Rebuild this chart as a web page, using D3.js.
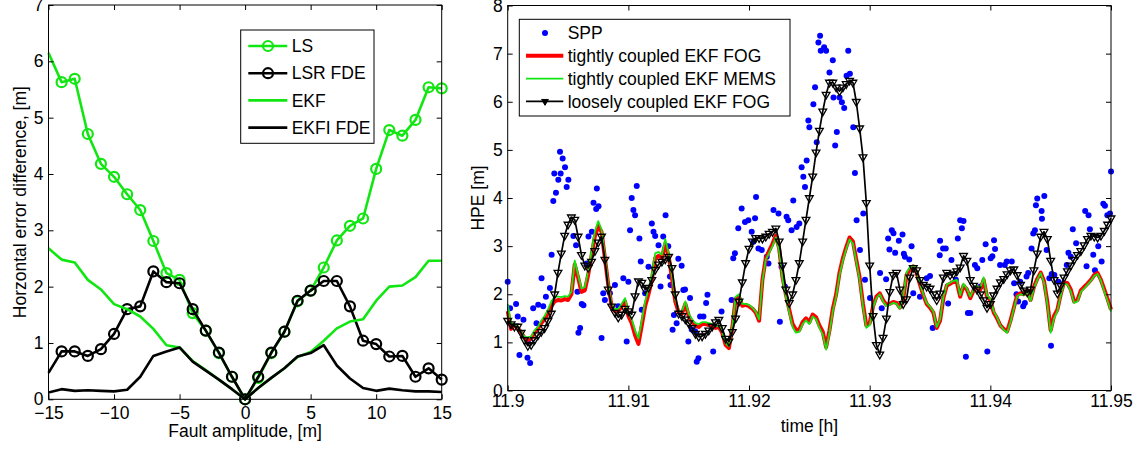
<!DOCTYPE html>
<html>
<head>
<meta charset="utf-8">
<script src="https://cdn.jsdelivr.net/npm/d3@7"></script>
<style>
body { margin: 0; background: #fff; }
svg { display: block; font-family: "Liberation Sans", Arial, sans-serif; }
.axis text { font-size: 17.5px; font-family: "Liberation Sans", Arial, sans-serif; fill: #000; }
.label { font-size: 17.5px; fill: #000; }
</style>
</head>
<body>
<svg id="svg"></svg>
<script>
var width = 1144, height = 450;

// ---- left panel: error difference vs fault amplitude
var faultAmp = [-15,-14,-13,-12,-11,-10,-9,-8,-7,-6,-5,-4,-3,-2,-1,0,1,2,3,4,5,6,7,8,9,10,11,12,13,14,15];
var lsErr   = [6.15,5.63,5.69,4.71,4.18,3.95,3.64,3.36,2.81,2.24,2.12,1.53,1.22,0.82,0.4,0,0.38,0.82,1.2,1.74,1.93,2.34,2.82,3.08,3.21,4.09,4.78,4.68,4.96,5.54,5.52];
var lsrErr  = [0.47,0.85,0.85,0.77,0.89,1.16,1.6,1.65,2.27,2.08,2.06,1.6,1.22,0.83,0.4,0,0.4,0.83,1.2,1.75,1.93,2.1,2.1,1.65,1.04,0.98,0.76,0.77,0.4,0.55,0.35];
var ekfErr  = [2.68,2.48,2.43,2.12,1.95,1.69,1.6,1.47,1.25,0.96,0.92,0.68,0.52,0.35,0.18,0,0.2,0.38,0.55,0.75,0.84,1.04,1.26,1.38,1.42,1.75,2.0,2.02,2.17,2.46,2.46];
var ekfiErr = [0.12,0.18,0.15,0.16,0.15,0.14,0.17,0.4,0.77,0.85,0.92,0.67,0.51,0.35,0.18,0,0.2,0.38,0.55,0.76,0.82,0.96,0.6,0.37,0.2,0.15,0.19,0.16,0.14,0.14,0.13];
var leftXTicks = [-15,-10,-5,0,5,10,15];
var leftYTicks = [0,1,2,3,4,5,6,7];
var leftNames = ["LS", "LSR FDE", "EKF", "EKFI FDE"];

// ---- right panel: HPE over time
var sampleSec = d3.range(0, 181);
var looseFog = [1.45,1.38,1.33,1.33,1.2,1.05,0.93,0.95,1.05,1.15,
	1.22,1.3,1.45,1.6,2.0,2.45,2.85,3.22,3.45,3.6,
	3.55,3.2,2.82,2.6,2.55,2.68,2.9,3.08,3.2,2.72,
	2.1,1.75,1.62,1.52,1.58,1.7,1.65,1.58,1.96,2.27,
	2.24,2.1,2.14,2.3,2.51,2.62,2.68,2.73,2.78,2.55,
	2.0,1.6,1.55,1.48,1.4,1.3,1.18,1.12,1.13,1.18,
	1.25,1.33,1.42,1.47,1.3,1.08,1.02,1.22,1.5,1.85,
	2.25,2.65,2.95,3.1,3.17,3.17,3.16,3.2,3.26,3.3,
	3.37,3.1,2.6,2.1,1.82,2.0,2.3,2.65,3.1,3.55,
	4.0,4.45,4.95,5.4,5.8,6.15,6.4,6.4,6.3,6.22,
	6.3,6.37,6.44,6.4,6.0,5.45,4.85,3.9,2.6,1.55,
	0.95,0.75,1.1,1.5,2.05,2.4,2.45,2.1,1.8,1.9,
	2.35,2.55,2.5,2.3,2.2,2.16,2.12,2.0,1.88,2.02,
	2.35,2.45,2.4,2.42,2.48,2.56,2.8,2.7,2.3,2.18,
	2.1,2.0,1.88,1.72,1.8,1.98,2.12,2.25,2.32,2.42,
	2.5,2.52,2.4,2.2,2.08,2.04,2.1,2.5,2.85,3.2,
	3.3,3.15,2.7,2.3,2.02,2.18,2.35,2.48,2.6,2.72,
	2.82,2.9,3.02,3.15,3.22,3.2,3.18,3.22,3.32,3.45,
	3.58];
var tightFog = [1.65,1.28,1.35,1.3,1.2,1.1,1.05,1.08,1.2,1.28,
	1.4,1.48,1.6,1.75,1.85,1.88,1.87,1.9,1.88,2.0,
	2.62,2.35,2.05,2.08,2.4,2.8,3.2,3.42,3.3,2.75,
	2.2,1.75,1.65,1.65,1.75,1.85,1.55,1.4,1.15,0.97,
	1.35,1.75,2.0,2.3,2.75,2.8,2.75,3.05,2.8,2.35,
	1.85,1.62,1.6,1.8,1.55,1.42,1.35,1.32,1.38,1.38,
	1.36,1.35,1.3,1.32,1.2,0.95,0.88,1.3,1.9,1.95,
	1.76,1.78,1.75,1.7,1.62,1.45,2.3,2.75,2.9,3.05,
	3.22,2.95,2.35,2.0,1.68,1.38,1.26,1.26,1.42,1.5,
	1.42,1.58,1.52,1.35,1.22,0.9,1.25,1.7,2.0,2.45,
	2.75,2.98,3.18,3.1,2.72,2.35,1.8,1.35,1.4,1.75,
	1.95,2.02,1.88,1.78,1.8,1.84,1.82,1.72,1.9,2.4,
	2.52,2.58,2.45,2.2,1.98,1.8,1.72,1.62,1.3,1.45,
	1.92,2.18,2.22,2.26,2.25,1.95,2.18,2.1,1.92,2.08,
	2.15,2.1,2.3,1.95,1.88,1.62,1.5,1.35,1.28,1.23,
	1.45,1.72,1.98,2.02,2.0,2.08,1.88,2.15,2.32,2.45,
	2.28,1.85,1.25,1.55,1.68,2.0,2.25,2.23,2.1,1.85,
	1.88,2.08,2.15,2.22,2.3,2.4,2.44,2.3,2.1,1.9,
	1.68];
var tightMems = [1.8,1.4,1.38,1.32,1.22,1.12,1.1,1.12,1.25,1.32,
	1.45,1.55,1.68,1.85,1.95,1.95,1.94,1.96,1.95,2.05,
	2.7,2.4,2.12,2.15,2.48,2.9,3.3,3.52,3.35,2.8,
	2.22,1.78,1.68,1.7,1.8,1.92,1.62,1.48,1.25,1.08,
	1.45,1.85,2.1,2.4,2.85,2.88,2.82,3.15,2.85,2.4,
	1.9,1.65,1.64,1.85,1.6,1.48,1.4,1.38,1.42,1.42,
	1.4,1.38,1.34,1.35,1.22,0.98,0.92,1.32,1.95,2.0,
	1.8,1.8,1.78,1.72,1.64,1.48,2.28,2.72,2.86,3.0,
	3.18,2.9,2.3,1.95,1.62,1.32,1.2,1.22,1.38,1.46,
	1.38,1.54,1.48,1.3,1.16,0.85,1.2,1.65,1.95,2.4,
	2.7,2.94,3.14,3.05,2.68,2.3,1.75,1.3,1.36,1.72,
	1.92,2.0,1.85,1.75,1.78,1.82,1.8,1.7,1.95,2.45,
	2.56,2.6,2.48,2.22,2.0,1.82,1.74,1.64,1.32,1.48,
	1.95,2.2,2.24,2.28,2.3,1.98,2.22,2.12,1.95,2.1,
	2.18,2.12,2.35,1.98,1.9,1.65,1.52,1.35,1.26,1.2,
	1.42,1.7,1.96,2.0,1.98,2.06,1.86,2.12,2.3,2.44,
	2.25,1.8,1.2,1.5,1.65,1.98,2.22,2.2,2.06,1.82,
	1.85,2.05,2.12,2.2,2.28,2.38,2.42,2.28,2.06,1.86,
	1.64];
var sppSec = [0,0.7,2.5,3,3.5,4.7,5.9,6.2,6.7,7.6,8.6,9.1,10.1,10.6,11.4,12.6,13.1,13.6,13.9,14.4,
	15.1,15.6,15.8,16.4,17.1,17.6,18.1,19.6,20.4,20.8,21.1,21.6,22.1,22.6,23.6,24.1,25.1,25.6,26.4,26.6,
	27.1,28,28.5,29,30.5,32,33,34.5,35.5,36,36.5,37,37.5,38,38.5,39.3,39.7,40,41,42,
	43,43.5,44,45,45.6,46.4,47.1,47.9,48.4,48.6,49.2,49.6,50.4,50.9,51.9,52.4,52.9,53.9,54.4,54.9,
	55.9,56.4,56.9,57.4,58.4,59.2,59.6,61.3,63.8,66.8,67.3,67.8,68.8,69.8,70.8,71.8,72.8,73.3,73.8,74.1,
	74.8,75.8,77.3,77.8,79.3,80.8,81.2,81.7,82.7,83.2,83.7,84.7,85.2,86.2,87,87.7,88.2,88.7,89.2,89.7,
	90,91.2,91.7,92.2,92.7,93.2,93.4,94.4,95,96,97,97.2,97.7,98.2,99,99.7,100.4,101.1,101.6,102.1,
	103.1,103.6,104.1,105.1,106.1,106.6,108.1,111.1,111.6,112.9,113.5,113.9,114.6,115.1,115.6,116.7,117.8,118.2,118.5,119.8,
	120.5,121,123,125,126,126.8,128.9,129,129.9,130.7,131.4,132.4,133.7,134.3,135,135.5,136,136.7,137.3,138,
	139.4,140.1,141.1,141.6,142.6,143.1,144.1,144.6,145.1,145.4,146.9,148.3,148.9,150.4,151.1,151.8,152.3,152.9,153.8,154.3,
	154.8,155.3,156.3,156.8,157.3,157.6,158,159.3,159.4,160.1,160.8,161.6,162.1,162.3,163.1,164.3,166.8,167.3,168,168.6,
	169.6,172.3,172.7,173.3,173.7,174.7,175.2,176.2,177.2,177.7,178.2,178.9,179.7,180];
var sppHpe = [2.26,1.71,1.8,1.54,0.74,1.47,0.68,1.06,0.57,1.71,1.4,1.78,2.33,1.75,1.95,2.13,2.82,3.94,4.51,4.11,
	4.38,4.96,4.51,4.82,4.64,4.23,4.38,3.21,3.02,2.05,1.2,1.3,1.8,1.77,2.64,3.2,3.3,3.9,3.77,4.2,
	3.83,1.09,2.02,1.88,2.02,2.19,1.75,2.33,1.02,2.26,3.33,4.0,3.75,3.64,4.25,3.16,2.68,1.68,2.02,2.57,
	3.47,3.3,3.21,3.02,2.16,3.2,3.64,3.0,2.37,2.19,1.26,1.57,1.4,2.74,2.59,2.09,2.1,1.02,1.92,1.27,
	1.23,0.6,0.67,1.54,1.54,1.82,1.99,0.81,1.64,1.88,2.75,2.85,3.37,3.78,3.5,3.54,3.3,3.09,3.58,4.02,
	2.95,2.92,2.78,2.64,3.75,3.68,1.43,2.57,2.16,3.61,3.54,3.33,3.95,3.4,3.47,4.64,4.44,4.23,4.78,5.61,
	5.47,5.95,6.3,5.16,7.23,7.37,7.06,7.13,7.06,6.61,6.86,6.09,5.09,5.37,6.09,5.99,5.87,6.54,7.06,6.58,
	5.47,4.52,3.54,2.92,3.68,2.3,1.92,2.44,1.71,2.31,3.16,2.93,3.33,3.27,2.86,3.11,3.24,2.84,2.78,2.72,
	3.0,2.02,1.95,2.33,2.38,1.3,2.81,3.11,2.95,2.95,1.81,2.71,2.3,3.16,3.54,3.37,3.52,0.7,1.61,1.61,
	2.61,2.54,2.16,2.71,3.04,0.81,2.75,2.79,3.12,2.94,2.61,2.61,2.68,2.68,2.23,2.0,1.85,2.26,1.75,1.82,
	2.37,2.44,2.95,3.26,3.33,3.85,3.99,3.73,3.57,4.04,2.92,2.33,0.93,2.42,2.4,2.26,2.61,2.86,2.78,3.35,
	3.06,3.73,2.58,3.64,3.35,2.82,2.5,3.0,2.68,3.88,3.84,3.64,3.68,4.55];
var rightXTicks = [11.9, 11.91, 11.92, 11.93, 11.94, 11.95];
var rightYTicks = [0,1,2,3,4,5,6,7,8];
var rightNames = ["SPP", "tightly coupled EKF FOG", "tightly coupled EKF MEMS", "loosely coupled EKF FOG"];
var startHour = 11.9;

var green = "#12e612";

var svg = d3.select("#svg")
	.attr("width", width)
	.attr("height", height);

function drawAxes(x, y, xTicks, yTicks, xPad, xFmt)
{
	var x0 = x.range()[0], x1 = x.range()[1], y0 = y.range()[0], y1 = y.range()[1];

	svg.append("g")
		.attr("class", "axis")
		.attr("transform", "translate(0," + y0 + ")")
		.call(d3.axisBottom(x).tickValues(xTicks).tickSize(-5).tickSizeOuter(0).tickPadding(xPad).tickFormat(xFmt))
		.call(function(g) { g.select(".domain").remove(); });
	svg.append("g")
		.attr("class", "axis")
		.attr("transform", "translate(0," + y1 + ")")
		.call(d3.axisTop(x).tickValues(xTicks).tickSize(-5).tickSizeOuter(0).tickFormat(""))
		.call(function(g) { g.select(".domain").remove(); });
	svg.append("g")
		.attr("class", "axis")
		.attr("transform", "translate(" + x0 + ",0)")
		.call(d3.axisLeft(y).tickValues(yTicks).tickSize(-5).tickSizeOuter(0).tickPadding(5).tickFormat(d3.format("d")))
		.call(function(g) { g.select(".domain").remove(); });
	svg.append("g")
		.attr("class", "axis")
		.attr("transform", "translate(" + x1 + ",0)")
		.call(d3.axisRight(y).tickValues(yTicks).tickSize(-5).tickSizeOuter(0).tickFormat(""))
		.call(function(g) { g.select(".domain").remove(); });

	svg.append("rect")
		.attr("x", x0)
		.attr("y", y1)
		.attr("width", x1 - x0)
		.attr("height", y0 - y1)
		.attr("fill", "none")
		.attr("stroke", "#000")
		.attr("stroke-width", 1);
}

// ================= left panel =================
var xL = d3.scaleLinear().domain([-15, 15]).range([48.5, 441.7]);
var yL = d3.scaleLinear().domain([0, 7]).range([399.3, 5]);

var leftSeries = [
	{name: leftNames[0], values: lsErr, color: green, marker: true},
	{name: leftNames[1], values: lsrErr, color: "#000", marker: true},
	{name: leftNames[2], values: ekfErr, color: green, marker: false},
	{name: leftNames[3], values: ekfiErr, color: "#000", marker: false}
];

var lineL = d3.line()
	.x(function(d) { return xL(d[0]); })
	.y(function(d) { return yL(d[1]); });

var left = svg.append("g");
leftSeries.forEach(function(s)
{
	var pts = faultAmp.map(function(a, i) { return [a, s.values[i]]; });
	left.append("path")
		.datum(pts)
		.attr("d", lineL)
		.attr("fill", "none")
		.attr("stroke", s.color)
		.attr("stroke-width", 2.6)
		.attr("stroke-linejoin", "round");
	if (s.marker)
	{
		left.selectAll(null)
			.data(pts.slice(1))
			.enter().append("circle")
			.attr("cx", function(d) { return xL(d[0]); })
			.attr("cy", function(d) { return yL(d[1]); })
			.attr("r", 5)
			.attr("fill", "none")
			.attr("stroke", s.color)
			.attr("stroke-width", 2.2);
	}
});

drawAxes(xL, yL, leftXTicks, leftYTicks, 7, d3.format("d"));

svg.append("text")
	.attr("class", "label")
	.attr("x", (xL.range()[0] + xL.range()[1]) / 2)
	.attr("y", 437)
	.attr("text-anchor", "middle")
	.text("Fault amplitude, [m]");

svg.append("text")
	.attr("class", "label")
	.attr("transform", "translate(26," + (yL.range()[0] + yL.range()[1]) / 2 + ") rotate(-90)")
	.attr("text-anchor", "middle")
	.text("Horzontal error difference, [m]");

// legend
var legL = svg.append("g").attr("transform", "translate(240.7,30)");
legL.append("rect")
	.attr("width", 133.3)
	.attr("height", 113.3)
	.attr("fill", "#fff")
	.attr("stroke", "#000");
var legLItem = legL.selectAll("g.item")
	.data(leftSeries)
	.enter().append("g")
	.attr("class", "item")
	.attr("transform", function(d, i) { return "translate(0," + (16 + i * 27.2) + ")"; });
legLItem.append("line")
	.attr("x1", 7.6).attr("x2", 46.6)
	.attr("stroke", function(d) { return d.color; })
	.attr("stroke-width", 2.6);
legLItem.filter(function(d) { return d.marker; })
	.append("circle")
	.attr("cx", 27.3)
	.attr("r", 5)
	.attr("fill", "none")
	.attr("stroke", function(d) { return d.color; })
	.attr("stroke-width", 2.2);
legLItem.append("text")
	.attr("class", "label")
	.attr("x", 51)
	.attr("y", 6.2)
	.text(function(d) { return d.name; });

// ================= right panel =================
var xR = d3.scaleLinear().domain([11.9, 11.95]).range([507.7, 1111]);
var yR = d3.scaleLinear().domain([0, 8]).range([390.5, 5.5]);

function hourOf(sec) { return startHour + sec / 3600; }

var lineR = d3.line()
	.x(function(d) { return xR(hourOf(d[0])); })
	.y(function(d) { return yR(d[1]); });

var right = svg.append("g");

right.selectAll("circle.spp")
	.data(sppSec.map(function(s, i) { return [s, sppHpe[i]]; }))
	.enter().append("circle")
	.attr("class", "spp")
	.attr("cx", function(d) { return xR(hourOf(d[0])); })
	.attr("cy", function(d) { return yR(d[1]); })
	.attr("r", 3)
	.attr("fill", "#0000ff");

function pairs(vals) { return sampleSec.map(function(s, i) { return [s, vals[i]]; }); }

right.append("path")
	.datum(pairs(tightFog))
	.attr("d", lineR)
	.attr("fill", "none")
	.attr("stroke", "#ff0000")
	.attr("stroke-width", 4)
	.attr("stroke-linejoin", "round");

right.append("path")
	.datum(pairs(tightMems))
	.attr("d", lineR)
	.attr("fill", "none")
	.attr("stroke", green)
	.attr("stroke-width", 1.8)
	.attr("stroke-linejoin", "round");

var loosePts = pairs(looseFog);
right.append("path")
	.datum(loosePts)
	.attr("d", lineR)
	.attr("fill", "none")
	.attr("stroke", "#000")
	.attr("stroke-width", 1.7)
	.attr("stroke-linejoin", "round");

var tri = d3.symbol().type(d3.symbolTriangle).size(26);
right.selectAll("path.tri")
	.data(loosePts)
	.enter().append("path")
	.attr("class", "tri")
	.attr("d", tri)
	.attr("transform", function(d) { return "translate(" + xR(hourOf(d[0])) + "," + yR(d[1]) + ") rotate(180)"; })
	.attr("fill", "none")
	.attr("stroke", "#000")
	.attr("stroke-width", 1.3);

drawAxes(xR, yR, rightXTicks, rightYTicks, 4, function(d) { return String(d); });

svg.append("text")
	.attr("class", "label")
	.attr("x", (xR.range()[0] + xR.range()[1]) / 2)
	.attr("y", 432)
	.attr("text-anchor", "middle")
	.text("time [h]");

svg.append("text")
	.attr("class", "label")
	.attr("transform", "translate(484," + (yR.range()[0] + yR.range()[1]) / 2 + ") rotate(-90)")
	.attr("text-anchor", "middle")
	.text("HPE [m]");

// legend
var legR = svg.append("g").attr("transform", "translate(519.3,19.3)");
legR.append("rect")
	.attr("width", 270.7)
	.attr("height", 96.7)
	.attr("fill", "#fff")
	.attr("stroke", "#000");
var legRItem = legR.selectAll("g.item")
	.data(rightNames)
	.enter().append("g")
	.attr("class", "item")
	.attr("transform", function(d, i) { return "translate(0," + (13.7 + i * 22.8) + ")"; });
legRItem.filter(function(d, i) { return i == 0; })
	.append("circle")
	.attr("cx", 25.7)
	.attr("r", 3)
	.attr("fill", "#0000ff");
legRItem.filter(function(d, i) { return i > 0; })
	.append("line")
	.attr("x1", 6.7).attr("x2", 44)
	.attr("stroke", function(d, i) { return ["#ff0000", green, "#000"][i]; })
	.attr("stroke-width", function(d, i) { return [4, 1.8, 1.7][i]; });
legRItem.filter(function(d, i) { return i == 3; })
	.append("path")
	.attr("d", d3.symbol().type(d3.symbolTriangle).size(20))
	.attr("transform", "translate(25.7,0) rotate(180)")
	.attr("fill", "#000")
	.attr("stroke", "#000");
legRItem.append("text")
	.attr("class", "label")
	.attr("x", 48.4)
	.attr("y", 6.2)
	.text(function(d) { return d; });
</script>
</body>
</html>
